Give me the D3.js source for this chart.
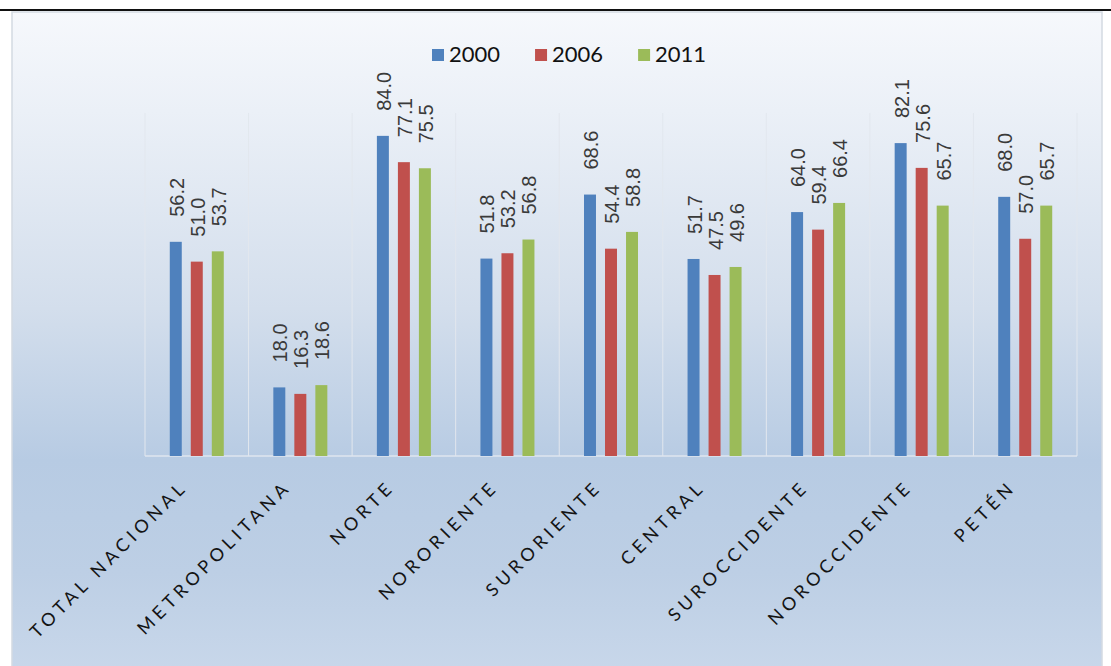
<!DOCTYPE html>
<html><head><meta charset="utf-8">
<script src="https://cdn.jsdelivr.net/npm/d3@7"></script>
<style>html,body{margin:0;padding:0;background:#fff;overflow:hidden}</style>
</head><body>
<svg id="c" width="1111" height="666"></svg>
<script>
const categories = ["TOTAL NACIONAL","METROPOLITANA","NORTE","NORORIENTE","SURORIENTE","CENTRAL","SUROCCIDENTE","NOROCCIDENTE","PETÉN"];
const seriesNames = ["2000","2006","2011"];
const values2000 = [56.2,18.0,84.0,51.8,68.6,51.7,64.0,82.1,68.0];
const values2006 = [51.0,16.3,77.1,53.2,54.4,47.5,59.4,75.6,57.0];
const values2011 = [53.7,18.6,75.5,56.8,58.8,49.6,66.4,65.7,65.7];
const colors = ["#4F81BD","#C0504D","#9BBB59"];

const svg = d3.select("#c");
const W = 1111, H = 666;
const defs = svg.append("defs");
const g1 = defs.append("linearGradient").attr("id","bg").attr("x1",0).attr("y1",0).attr("x2",0).attr("y2",1);
[[0,"#f6f8fc"],[0.15,"#ebf0f7"],[0.45,"#d3deec"],[0.68,"#b7cbe3"],[0.85,"#bdcfe5"],[1,"#c8d7ea"]].forEach(s=>g1.append("stop").attr("offset",s[0]).attr("stop-color",s[1]));

// top rule
svg.append("rect").attr("x",0).attr("y",9).attr("width",W).attr("height",2).attr("fill","#111");
// panel
svg.append("rect").attr("x",12).attr("y",12).attr("width",1090).attr("height",660).attr("fill","url(#bg)")
  .attr("stroke","#d4dae2").attr("stroke-width",1.5);

const margin = {left:145, right:1077, top:113, bottom:456};
const x0 = d3.scaleBand().domain(categories).range([margin.left, margin.right]).paddingInner(0).paddingOuter(0);
const x1 = d3.scaleBand().domain(seriesNames).range([x0.bandwidth()/2 - 27, x0.bandwidth()/2 + 27]).paddingInner(0.43).paddingOuter(0);
const y = d3.scaleLinear().domain([0,90]).range([margin.bottom, margin.top]);

// vertical gridlines at category boundaries
const bounds = categories.map(c=>x0(c)).concat([x0.range()[1]]);
svg.append("g").selectAll("line").data(bounds).join("line")
  .attr("x1",d=>d).attr("x2",d=>d).attr("y1",margin.top).attr("y2",margin.bottom)
  .attr("stroke","#e2e7ee").attr("stroke-width",1);
// baseline
svg.append("line").attr("x1",margin.left).attr("x2",margin.right).attr("y1",margin.bottom).attr("y2",margin.bottom)
  .attr("stroke","#dfe6ef").attr("stroke-width",1.5);

const series = [values2000, values2006, values2011];
const groups = svg.append("g").selectAll("g").data(categories).join("g")
  .attr("transform",c=>`translate(${x0(c)},0)`);
seriesNames.forEach((s,si)=>{
  groups.append("rect")
    .attr("x",x1(s)).attr("width",x1.bandwidth())
    .attr("y",(c,i)=>y(series[si][i])).attr("height",(c,i)=>margin.bottom - y(series[si][i]))
    .attr("fill",colors[si]);
  groups.append("text")
    .attr("transform",(c,i)=>`translate(${x1(s)+x1.bandwidth()/2+1},${y(series[si][i])-25}) rotate(-90)`)
    .attr("dominant-baseline","central")
    .attr("font-family","Liberation Sans, Arial, sans-serif").attr("font-size",20)
    .attr("fill","#3a3a3a")
    .text((c,i)=>series[si][i].toFixed(1));
});

// category axis labels
const xAxis = d3.axisBottom(x0).tickSize(0).tickPadding(0);
const ax = svg.append("g").attr("transform",`translate(0,${margin.bottom})`).call(xAxis);
ax.select(".domain").remove();
ax.selectAll(".tick text")
  .attr("font-family","Lato, sans-serif").attr("font-size",18).attr("fill","#141414")
  .attr("letter-spacing","4.5px").attr("dy",0).attr("y",0)
  .attr("text-anchor","end")
  .attr("transform","translate(-8,32) rotate(-45)");

// legend
const leg = svg.append("g").attr("transform","translate(432,62)");
let lx = 0;
seriesNames.forEach((s,i)=>{
  const it = leg.append("g").attr("transform",`translate(${lx},0)`);
  it.append("rect").attr("x",0).attr("y",-13).attr("width",12).attr("height",12).attr("fill",colors[i]);
  const t = it.append("text").attr("x",17).attr("y",0).attr("font-family","Lato, sans-serif").attr("font-size",22).attr("fill","#111").text(s);
  lx += 17 + t.node().getComputedTextLength() + 35;
});
</script>
</body></html>
